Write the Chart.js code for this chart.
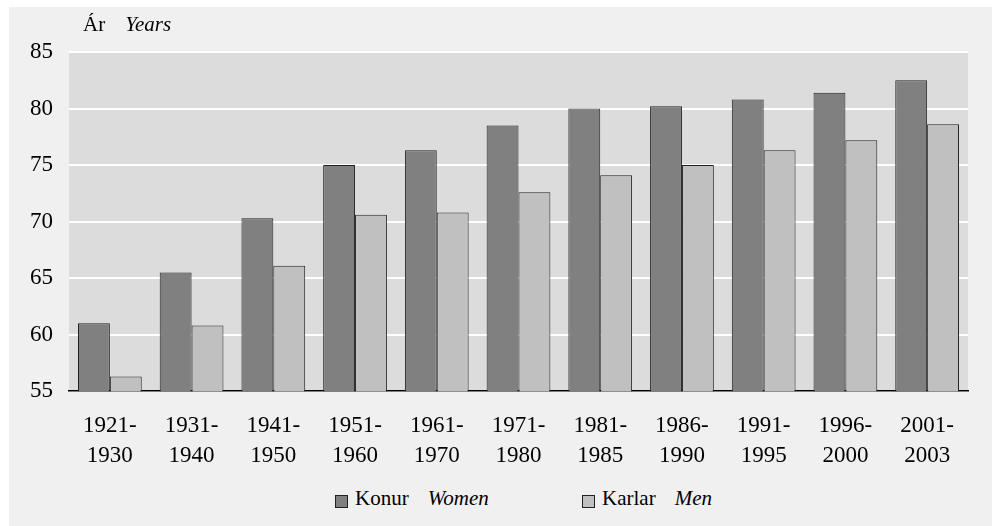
<!DOCTYPE html>
<html>
<head>
<meta charset="utf-8">
<script src="https://cdn.jsdelivr.net/npm/chart.js@4.4.0/dist/chart.umd.min.js"></script>
<style>
  body { margin: 0; background: #fff; }
  #box { position: absolute; left: 9px; top: 7px; width: 983px; height: 519px; background: #f0f0f0; }
  #wrap { position: absolute; left: 0; top: 0; width: 983px; height: 476px; }
  #title { position: absolute; left: 74px; top: 7px; font: 21px/21px "Liberation Serif", "Times New Roman", "DejaVu Serif", serif; color: #000; white-space: pre; }
  .leg { position: absolute; font: 21px/21px "Liberation Serif", "Times New Roman", "DejaVu Serif", serif; color: #000; white-space: pre; }
  .sw { position: absolute; width: 11px; height: 11px; border: 1px solid #222; }
</style>
</head>
<body>
<div id="box">
  <div id="wrap"><canvas id="myChart"></canvas></div>
  <div id="title">Ár<i style="margin-left:20px">Years</i></div>
</div>
<script>
var periods = [
    ['1921-', '1930'], ['1931-', '1940'], ['1941-', '1950'], ['1951-', '1960'],
    ['1961-', '1970'], ['1971-', '1980'], ['1981-', '1985'], ['1986-', '1990'],
    ['1991-', '1995'], ['1996-', '2000'], ['2001-', '2003']
];
var women = [61.0, 65.5, 70.3, 75.0, 76.3, 78.5, 80.0, 80.2, 80.8, 81.4, 82.5];
var men = [56.3, 60.8, 66.1, 70.6, 70.8, 72.6, 74.1, 75.0, 76.3, 77.2, 78.6];
var yTicks = [55, 60, 65, 70, 75, 80, 85];

// legend: Icelandic label + English in italics
var seriesNames = [['Konur', 'Women'], ['Karlar', 'Men']];
var seriesColors = ['#808080', '#c0c0c0'];
var legendX = [326, 573];

var serif = '"Liberation Serif", "Times New Roman", "DejaVu Serif", serif';

var plotBg = {
    id: 'plotBg',
    beforeDraw(chart) {
        const a = chart.chartArea;
        const ctx = chart.ctx;
        ctx.save();
        ctx.fillStyle = '#dcdcdc';
        ctx.fillRect(a.left, a.top, a.right - a.left, a.bottom - a.top);
        ctx.restore();
    }
};

const ctx = document.getElementById('myChart').getContext('2d');
const myChart = new Chart(ctx, {
    type: 'bar',
    data: {
        labels: periods,
        datasets: [{
            label: seriesNames[0].join(' '),
            data: women,
            backgroundColor: seriesColors[0],
            borderColor: '#222',
            borderWidth: 1
        }, {
            label: seriesNames[1].join(' '),
            data: men,
            backgroundColor: seriesColors[1],
            borderColor: '#222',
            borderWidth: 1
        }]
    },
    options: {
        responsive: true,
        maintainAspectRatio: false,
        animation: false,
        layout: { padding: { left: 5, right: 24, top: 45, bottom: 0 } },
        datasets: { bar: { categoryPercentage: 0.78, barPercentage: 1 } },
        plugins: { legend: { display: false }, tooltip: { enabled: false } },
        scales: {
            x: {
                grid: { display: false },
                border: { color: '#000', width: 1.5 },
                ticks: {
                    color: '#000',
                    padding: 12,
                    maxRotation: 0,
                    font: { family: serif, size: 23, lineHeight: 1.3 }
                }
            },
            y: {
                min: 55,
                max: 85,
                afterBuildTicks(axis) { axis.ticks = yTicks.map(v => ({ value: v })); },
                grid: { color: '#fff', lineWidth: 2, drawTicks: false },
                border: { display: false },
                ticks: {
                    color: '#000',
                    padding: 16,
                    font: { family: serif, size: 23 }
                }
            }
        }
    },
    plugins: [plotBg]
});

var box = document.getElementById('box');
seriesNames.forEach(function (n, i) {
    var sw = document.createElement('div');
    sw.className = 'sw';
    sw.style.left = legendX[i] + 'px';
    sw.style.top = '488px';
    sw.style.background = seriesColors[i];
    box.appendChild(sw);
    var t = document.createElement('div');
    t.className = 'leg';
    t.style.left = (legendX[i] + 20) + 'px';
    t.style.top = '481px';
    t.innerHTML = n[0] + '<i style="margin-left:19px">' + n[1] + '</i>';
    box.appendChild(t);
});
</script>
</body>
</html>
